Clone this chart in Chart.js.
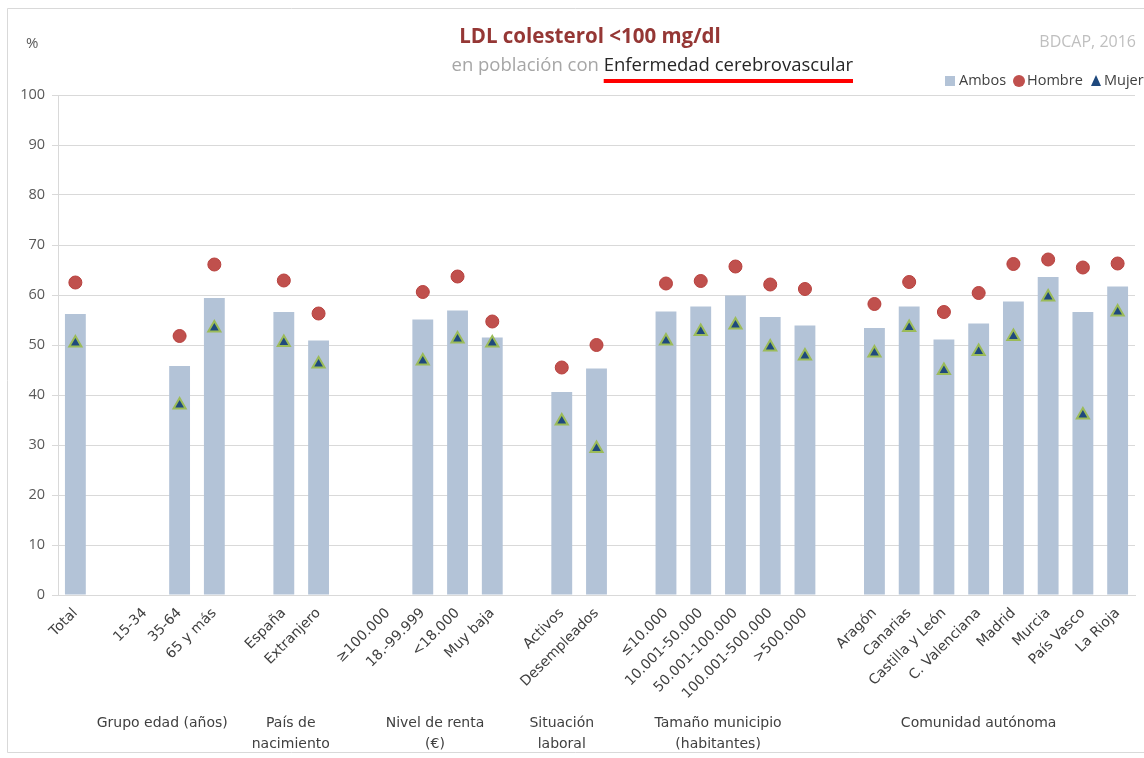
<!DOCTYPE html>
<html lang="es">
<head>
<meta charset="utf-8">
<title>LDL colesterol &lt;100 mg/dl</title>
<script src="https://cdn.jsdelivr.net/npm/chart.js@4.4.1/dist/chart.umd.min.js"></script>
<style>
  html, body { margin: 0; padding: 0; background: #ffffff; }
  #wrap { width: 1144px; height: 758px; }
</style>
</head>
<body>
<div id="wrap"><canvas id="chart" width="1144" height="758"></canvas></div>
<script>
// Categories (empty strings are spacer slots between groups)
const categories = [
  'Total', '',
  '15-34', '35-64', '65 y más', '',
  'España', 'Extranjero', '',
  '≥100.000', '18.-99.999', '<18.000', 'Muy baja', '',
  'Activos', 'Desempleados', '',
  '≤10.000', '10.001-50.000', '50.001-100.000', '100.001-500.000', '>500.000', '',
  'Aragón', 'Canarias', 'Castilla y León', 'C. Valenciana', 'Madrid', 'Murcia', 'País Vasco', 'La Rioja'
];

// Percentages per category (null = no data)
const ambos = [
  56.2, null,
  null, 45.8, 59.4, null,
  56.6, 50.9, null,
  null, 55.1, 56.9, 51.5, null,
  40.6, 45.3, null,
  56.7, 57.7, 59.9, 55.6, 53.9, null,
  53.4, 57.7, 51.1, 54.3, 58.7, 63.6, 56.6, 61.7
];
const hombre = [
  62.5, null,
  null, 51.8, 66.1, null,
  62.9, 56.3, null,
  null, 60.6, 63.7, 54.7, null,
  45.5, 50.0, null,
  62.3, 62.8, 65.7, 62.1, 61.2, null,
  58.2, 62.6, 56.6, 60.4, 66.2, 67.1, 65.5, 66.3
];
const mujer = [
  50.4, null,
  null, 38.0, 53.4, null,
  50.5, 46.2, null,
  null, 46.8, 51.2, 50.4, null,
  34.8, 29.3, null,
  50.8, 52.7, 54.0, 49.6, 47.8, null,
  48.4, 53.5, 44.9, 48.7, 51.7, 59.6, 36.0, 56.6
];

// Y axis ticks
const yTicks = [0, 10, 20, 30, 40, 50, 60, 70, 80, 90, 100];

// Group captions under the category labels
const groupNames = [
  ['Grupo edad (años)'],
  ['País de', 'nacimiento'],
  ['Nivel de renta', '(€)'],
  ['Situación', 'laboral'],
  ['Tamaño municipio', '(habitantes)'],
  ['Comunidad autónoma']
];
// horizontal centre of each caption, in category-index units
const groupCentres = [2.5, 6.2, 10.35, 14.0, 18.5, 26.0];

const FONT = '"Open Sans", "Liberation Sans", sans-serif';
const AXFONT = '"DejaVu Sans", "Liberation Sans", sans-serif';
const TEXT = '#404040';
const GRID = '#D9D9D9';
const BAR = '#B3C3D7';
const RED = '#C0504D';
const BLUE = '#1F497D';
const GREEN = '#9BBB59';

const decorations = {
  id: 'decorations',
  beforeDraw(chart) {
    const ctx = chart.ctx;
    ctx.save();
    ctx.fillStyle = '#ffffff';
    ctx.fillRect(0, 0, chart.width, chart.height);
    // outer frame
    ctx.strokeStyle = '#D9D9D9';
    ctx.lineWidth = 1;
    ctx.beginPath();
    ctx.moveTo(1144, 8.5);
    ctx.lineTo(7.5, 8.5);
    ctx.lineTo(7.5, 752.5);
    ctx.lineTo(1144, 752.5);
    ctx.stroke();
    ctx.restore();
  },
  afterDraw(chart) {
    const ctx = chart.ctx;
    const x = chart.scales.x;
    ctx.save();

    // axis unit
    ctx.fillStyle = '#595959';
    ctx.font = '15px ' + FONT;
    ctx.textAlign = 'left';
    ctx.textBaseline = 'middle';
    ctx.fillText('%', 26, 44);

    // title
    ctx.fillStyle = '#953735';
    ctx.font = 'bold 20.5px ' + FONT;
    ctx.textAlign = 'center';
    ctx.fillText('LDL colesterol <100 mg/dl', 590, 37);

    // subtitle: two tones
    ctx.font = '18.5px ' + FONT;
    const a = 'en población con ';
    const b = 'Enfermedad cerebrovascular';
    const wa = ctx.measureText(a).width;
    const wb = ctx.measureText(b).width;
    const sx = 853 - wa - wb;
    ctx.textAlign = 'left';
    ctx.fillStyle = '#A6A6A6';
    ctx.fillText(a, sx, 66);
    ctx.fillStyle = '#262626';
    ctx.fillText(b, sx + wa, 66);
    ctx.fillStyle = '#FF0000';
    ctx.fillRect(sx + wa, 79, wb, 4);

    // source
    ctx.fillStyle = '#BFBFBF';
    ctx.font = '16px ' + FONT;
    ctx.textAlign = 'right';
    ctx.fillText('BDCAP, 2016', 1136, 42);

    // legend
    ctx.font = '14.5px ' + FONT;
    ctx.textAlign = 'left';
    ctx.fillStyle = BAR;
    ctx.fillRect(945, 76, 10, 10);
    ctx.fillStyle = TEXT;
    ctx.fillText('Ambos', 959, 81);
    ctx.beginPath();
    ctx.arc(1019, 81, 6, 0, Math.PI * 2);
    ctx.fillStyle = RED;
    ctx.fill();
    ctx.fillStyle = TEXT;
    ctx.fillText('Hombre', 1027, 81);
    ctx.beginPath();
    ctx.moveTo(1096, 75);
    ctx.lineTo(1101, 86);
    ctx.lineTo(1091, 86);
    ctx.closePath();
    ctx.fillStyle = BLUE;
    ctx.fill();
    ctx.fillStyle = TEXT;
    ctx.fillText('Mujer', 1104, 81);

    // group captions
    ctx.font = '14px ' + AXFONT;
    ctx.fillStyle = TEXT;
    ctx.textAlign = 'center';
    groupNames.forEach((lines, i) => {
      const cx = x.getPixelForValue(groupCentres[i]);
      lines.forEach((ln, j) => ctx.fillText(ln, cx, 723 + j * 21));
    });
    ctx.restore();
  }
};

new Chart(document.getElementById('chart'), {
  type: 'bar',
  data: {
    labels: categories,
    datasets: [
      {
        label: 'Ambos',
        data: ambos,
        backgroundColor: BAR,
        categoryPercentage: 1,
        barPercentage: 0.6,
        order: 2
      },
      {
        type: 'line',
        label: 'Hombre',
        data: hombre,
        showLine: false,
        pointStyle: 'circle',
        pointRadius: 6.5,
        pointBackgroundColor: RED,
        pointBorderColor: '#B8403D',
        pointBorderWidth: 1,
        order: 1
      },
      {
        type: 'line',
        label: 'Mujer',
        data: mujer,
        showLine: false,
        pointStyle: 'triangle',
        pointRadius: 7,
        pointBackgroundColor: BLUE,
        pointBorderColor: GREEN,
        pointBorderWidth: 2,
        order: 0
      }
    ]
  },
  options: {
    responsive: false,
    animation: false,
    devicePixelRatio: 1,
    layout: { padding: { top: 95, left: 0, right: 0, bottom: 0 } },
    plugins: {
      legend: { display: false },
      title: { display: false },
      tooltip: { enabled: false }
    },
    scales: {
      x: {
        offset: true,
        grid: { display: false },
        border: { display: true, color: GRID },
        ticks: {
          autoSkip: false,
          maxRotation: 45,
          minRotation: 45,
          color: TEXT,
          padding: 2,
          font: { family: AXFONT, size: 14 }
        },
        afterFit(scale) {
          scale.height = 163;
          scale.paddingLeft = 0;
          scale.paddingRight = 0;
        }
      },
      y: {
        min: 0,
        max: 100,
        afterBuildTicks(scale) { scale.ticks = yTicks.map(v => ({ value: v })); },
        grid: { color: GRID, tickLength: 6, drawTicks: true },
        border: { display: true, color: GRID },
        ticks: {
          color: '#595959',
          padding: 7,
          font: { family: FONT, size: 14.5 }
        },
        afterFit(scale) { scale.width = 58; }
      }
    }
  },
  plugins: [decorations]
});
</script>
</body>
</html>
